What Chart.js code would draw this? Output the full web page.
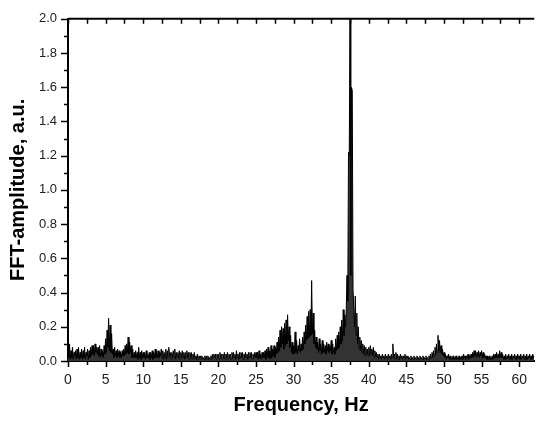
<!DOCTYPE html>
<html>
<head>
<meta charset="utf-8">
<script src="https://cdn.jsdelivr.net/npm/chart.js"></script>
<style>
  body { margin: 0; background: #fff; }
  #wrap { width: 538px; height: 422px; }
</style>
</head>
<body>
<div id="wrap"><canvas id="fft"></canvas></div>
<script>
// FFT spectrum, one value every 0.1 Hz (rows = 1 Hz)
var freqStep = 0.1;

var amp0_10 = [
  0.07,0.02,0.10,0.01,0.06,0.02,0.08,0.01,0.05,0.03,
  0.06,0.01,0.07,0.02,0.08,0.01,0.05,0.02,0.07,0.01,
  0.06,0.02,0.08,0.01,0.05,0.03,0.07,0.01,0.06,0.02,
  0.08,0.03,0.09,0.04,0.09,0.03,0.10,0.05,0.08,0.04,
  0.08,0.03,0.09,0.02,0.07,0.03,0.06,0.02,0.09,0.04,
  0.13,0.05,0.18,0.08,0.25,0.06,0.21,0.05,0.16,0.04,
  0.07,0.02,0.08,0.03,0.06,0.02,0.07,0.03,0.06,0.02,
  0.05,0.02,0.06,0.03,0.07,0.03,0.09,0.04,0.10,0.05,
  0.14,0.04,0.11,0.05,0.09,0.02,0.07,0.02,0.05,0.02,
  0.06,0.02,0.05,0.01,0.08,0.02,0.05,0.01,0.06,0.02
];
var amp10_20 = [
  0.05,0.02,0.05,0.01,0.06,0.02,0.04,0.02,0.05,0.01,
  0.05,0.02,0.06,0.01,0.05,0.02,0.07,0.02,0.06,0.02,
  0.06,0.02,0.05,0.03,0.07,0.02,0.06,0.01,0.05,0.02,
  0.07,0.01,0.06,0.02,0.08,0.03,0.05,0.01,0.05,0.02,
  0.06,0.02,0.07,0.01,0.05,0.02,0.05,0.02,0.06,0.01,
  0.05,0.02,0.06,0.02,0.05,0.01,0.05,0.02,0.06,0.02,
  0.05,0.01,0.05,0.02,0.05,0.01,0.04,0.02,0.05,0.01,
  0.03,0.01,0.04,0.01,0.03,0.02,0.03,0.01,0.03,0.01,
  0.02,0.01,0.03,0.01,0.03,0.01,0.03,0.01,0.02,0.01,
  0.03,0.01,0.04,0.02,0.04,0.02,0.04,0.01,0.04,0.02
];
var amp20_30 = [
  0.04,0.01,0.05,0.02,0.04,0.01,0.04,0.02,0.05,0.01,
  0.04,0.02,0.05,0.01,0.04,0.02,0.04,0.01,0.05,0.02,
  0.05,0.02,0.04,0.01,0.06,0.02,0.04,0.01,0.05,0.02,
  0.05,0.02,0.05,0.01,0.04,0.02,0.05,0.02,0.04,0.01,
  0.05,0.02,0.05,0.02,0.05,0.01,0.04,0.02,0.05,0.02,
  0.05,0.02,0.05,0.01,0.06,0.02,0.04,0.01,0.05,0.02,
  0.05,0.02,0.06,0.01,0.07,0.02,0.08,0.02,0.06,0.01,
  0.09,0.02,0.07,0.03,0.09,0.02,0.08,0.04,0.11,0.05,
  0.14,0.06,0.18,0.08,0.20,0.10,0.19,0.07,0.22,0.09,
  0.24,0.10,0.27,0.12,0.20,0.08,0.15,0.05,0.11,0.04
];
var amp30_40 = [
  0.09,0.04,0.17,0.05,0.12,0.04,0.09,0.06,0.13,0.05,
  0.10,0.06,0.14,0.07,0.17,0.10,0.21,0.12,0.26,0.13,
  0.29,0.14,0.30,0.15,0.47,0.16,0.28,0.10,0.18,0.08,
  0.14,0.07,0.11,0.05,0.13,0.06,0.10,0.04,0.12,0.05,
  0.10,0.05,0.09,0.04,0.11,0.06,0.10,0.05,0.09,0.06,
  0.12,0.04,0.10,0.05,0.08,0.04,0.13,0.06,0.15,0.07,
  0.17,0.08,0.20,0.10,0.24,0.12,0.30,0.15,0.27,0.20,
  0.30,0.50,0.35,1.22,1.20,2.00,0.50,1.60,1.58,0.42,
  0.42,0.20,0.38,0.15,0.28,0.10,0.20,0.07,0.14,0.06,
  0.12,0.05,0.10,0.04,0.09,0.03,0.08,0.04,0.07,0.03
];
var amp40_50 = [
  0.08,0.03,0.09,0.04,0.07,0.03,0.08,0.02,0.06,0.03,
  0.05,0.02,0.04,0.01,0.04,0.02,0.03,0.01,0.04,0.02,
  0.03,0.01,0.04,0.02,0.03,0.01,0.04,0.02,0.03,0.01,
  0.04,0.02,0.10,0.02,0.04,0.01,0.05,0.02,0.04,0.01,
  0.03,0.01,0.04,0.02,0.03,0.01,0.03,0.02,0.04,0.01,
  0.03,0.02,0.03,0.01,0.02,0.01,0.03,0.01,0.02,0.01,
  0.03,0.01,0.02,0.01,0.03,0.01,0.02,0.01,0.03,0.01,
  0.02,0.01,0.03,0.01,0.02,0.01,0.03,0.01,0.02,0.01,
  0.03,0.01,0.04,0.02,0.05,0.02,0.06,0.03,0.08,0.04,
  0.10,0.05,0.15,0.06,0.12,0.05,0.09,0.04,0.07,0.03
];
var amp50_62 = [
  0.05,0.02,0.04,0.01,0.03,0.02,0.04,0.01,0.03,0.01,
  0.02,0.01,0.03,0.01,0.02,0.01,0.03,0.01,0.02,0.01,
  0.03,0.01,0.02,0.01,0.03,0.01,0.04,0.02,0.03,0.01,
  0.03,0.02,0.04,0.01,0.03,0.02,0.04,0.02,0.05,0.02,
  0.06,0.03,0.06,0.02,0.05,0.03,0.06,0.02,0.05,0.03,
  0.06,0.02,0.05,0.02,0.04,0.02,0.03,0.01,0.03,0.01,
  0.03,0.01,0.02,0.01,0.03,0.01,0.04,0.02,0.04,0.02,
  0.05,0.02,0.04,0.02,0.06,0.02,0.05,0.02,0.04,0.01,
  0.03,0.01,0.04,0.01,0.03,0.02,0.04,0.01,0.03,0.01,
  0.04,0.01,0.03,0.02,0.04,0.01,0.03,0.01,0.04,0.02,
  0.03,0.01,0.04,0.01,0.03,0.02,0.04,0.01,0.03,0.01,
  0.04,0.01,0.03,0.02,0.04,0.01,0.03,0.01,0.04,0.02,
  0.03
];

var xTickLabels = [0, 5, 10, 15, 20, 25, 30, 35, 40, 45, 50, 55, 60];
var xTickMarks = [0, 2.5, 5, 7.5, 10, 12.5, 15, 17.5, 20, 22.5, 25, 27.5, 30, 32.5, 35, 37.5, 40, 42.5, 45, 47.5, 50, 52.5, 55, 57.5, 60];
var yTickLabels = [0, 0.2, 0.4, 0.6, 0.8, 1.0, 1.2, 1.4, 1.6, 1.8, 2.0];
var yTickMarks = [0, 0.1, 0.2, 0.3, 0.4, 0.5, 0.6, 0.7, 0.8, 0.9, 1.0, 1.1, 1.2, 1.3, 1.4, 1.5, 1.6, 1.7, 1.8, 1.9, 2.0];

var amplitudes = amp0_10.concat(amp10_20, amp20_30, amp30_40, amp40_50, amp50_62);
var points = amplitudes.map(function (a, i) {
  return { x: +(i * freqStep).toFixed(1), y: a };
});

// origin-style tick marks: outside on bottom/left, inside on the top frame
var axisTicks = {
  id: 'axisTicks',
  afterDraw: function (chart) {
    var ctx = chart.ctx, a = chart.chartArea, x = chart.scales.x, y = chart.scales.y;
    ctx.save();
    ctx.strokeStyle = '#000';
    ctx.lineWidth = 1.5;
    ctx.beginPath();
    xTickMarks.forEach(function (v) {
      var px = Math.round(x.getPixelForValue(v)) + 0.5;
      var len = v % 5 === 0 ? 6 : 4;
      ctx.moveTo(px, a.bottom);
      ctx.lineTo(px, a.bottom + len);
      ctx.moveTo(px, a.top);
      ctx.lineTo(px, a.top + 5);
    });
    yTickMarks.forEach(function (v) {
      var py = Math.round(y.getPixelForValue(v)) + 0.5;
      var len = Math.round(v * 10) % 2 === 0 ? 7 : 4;
      ctx.moveTo(a.left, py);
      ctx.lineTo(a.left - len, py);
    });
    ctx.stroke();
    ctx.lineWidth = 2;
    ctx.beginPath();
    ctx.moveTo(a.left, a.top);
    ctx.lineTo(a.right, a.top);
    ctx.stroke();
    ctx.restore();
  }
};

var tickFont = { family: "'Liberation Sans', Arial, sans-serif", size: 14 };
var titleFont = { family: "'Liberation Sans', Arial, sans-serif", size: 20, weight: 'bold' };

var ctx = document.getElementById('fft').getContext('2d');
var fftChart = new Chart(ctx, {
  type: 'line',
  data: {
    datasets: [{
      label: 'FFT',
      data: points,
      borderColor: '#000',
      backgroundColor: '#333',
      borderWidth: 1,
      pointRadius: 0,
      tension: 0,
      fill: 'origin'
    }]
  },
  options: {
    responsive: true,
    maintainAspectRatio: false,
    animation: false,
    layout: { padding: { top: 14, right: 0, left: 0, bottom: 0 } },
    plugins: { legend: { display: false }, tooltip: { enabled: false } },
    scales: {
      x: {
        type: 'linear',
        min: 0,
        max: 62,
        afterBuildTicks: function (s) { s.ticks = xTickLabels.map(function (v) { return { value: v }; }); },
        afterFit: function (s) { s.height = 61; },
        ticks: { font: tickFont, color: '#222', padding: 11, maxRotation: 0, autoSkip: false },
        grid: { display: false, drawTicks: false },
        border: { display: true, color: '#000', width: 2 },
        title: { display: true, text: 'Frequency, Hz', color: '#000', font: titleFont, padding: { top: 0, bottom: 5 } }
      },
      y: {
        min: 0,
        max: 2,
        afterBuildTicks: function (s) { s.ticks = yTickLabels.map(function (v) { return { value: v }; }); },
        afterFit: function (s) { s.width = 68; },
        ticks: {
          font: { family: "'Liberation Sans', Arial, sans-serif", size: 13 },
          color: '#222',
          padding: 11,
          callback: function (v) { return v.toFixed(1); }
        },
        grid: { display: false, drawTicks: false },
        border: { display: true, color: '#000', width: 2 },
        title: { display: true, text: 'FFT-amplitude, a.u.', color: '#000', font: titleFont, padding: { top: 6, bottom: 0 } }
      }
    }
  },
  plugins: [axisTicks]
});
</script>
</body>
</html>
